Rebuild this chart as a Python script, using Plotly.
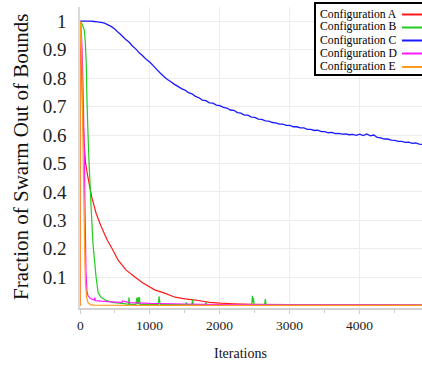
import plotly.graph_objects as go

# ---------------- data ----------------
series_names = ["Configuration A", "Configuration B", "Configuration C",
                "Configuration D", "Configuration E"]
series_colors = ["#ff1a1a", "#1fcc1f", "#1a1aff", "#ff1aff", "#ff9a1a"]

a_iter = [0, 1, 10, 25, 40, 60, 80, 100, 130, 170, 230, 300, 390, 460, 545, 660,
          790, 900, 1075, 1200, 1360, 1500, 1650, 1850, 2000, 2200, 2500, 3000,
          3500, 4000, 4890]
a_val = [0.0, 1.0, 0.93, 0.80, 0.68, 0.57, 0.50, 0.47, 0.43, 0.38, 0.325, 0.28,
         0.23, 0.20, 0.16, 0.125, 0.10, 0.08, 0.055, 0.045, 0.03, 0.024, 0.02,
         0.012, 0.009, 0.007, 0.005, 0.004, 0.003, 0.003, 0.002]

b_iter = [0, 30, 60, 75, 90, 100, 115, 130, 160, 185, 230, 260, 300, 360, 460,
          600, 695, 700, 710, 720, 800, 812, 820, 830, 840, 848, 860, 1120, 1130,
          1140, 1150, 1510, 1520, 1530, 1600, 1610, 1620, 1790, 1800, 1810, 2455,
          2465, 2472, 2480, 2490, 2640, 2650, 2660, 2720, 3000, 4000, 4890]
b_val = [1.0, 0.99, 0.97, 0.93, 0.85, 0.72, 0.60, 0.50, 0.34, 0.22, 0.10, 0.045,
         0.03, 0.02, 0.012, 0.008, 0.005, 0.03, 0.006, 0.005, 0.005, 0.028, 0.006,
         0.03, 0.005, 0.03, 0.005, 0.005, 0.033, 0.015, 0.004, 0.004, 0.012,
         0.004, 0.004, 0.022, 0.004, 0.004, 0.012, 0.004, 0.004, 0.035, 0.012,
         0.028, 0.004, 0.004, 0.023, 0.004, 0.004, 0.003, 0.003, 0.002]

c_iter = [0, 50, 100, 150, 200, 250, 300, 350, 400, 450, 500, 550, 600, 650, 700,
          750, 800, 850, 900, 950, 1000, 1050, 1100, 1150, 1200, 1250, 1300, 1350,
          1400, 1450, 1500, 1550, 1600, 1650, 1700, 1750, 1800, 1850, 1900, 1950,
          2000, 2050, 2100, 2150, 2200, 2250, 2300, 2350, 2400, 2450, 2500, 2550,
          2600, 2650, 2700, 2750, 2800, 2850, 2900, 2950, 3000, 3050, 3100, 3150,
          3200, 3250, 3300, 3350, 3400, 3450, 3500, 3550, 3600, 3650, 3700, 3750,
          3800, 3850, 3900, 3950, 4000, 4050, 4100, 4150, 4200, 4250, 4300, 4350,
          4400, 4450, 4500, 4550, 4600, 4650, 4700, 4750, 4800, 4850, 4890]
c_val = [1.0, 1.0, 1.0, 1.0, 0.999, 0.998, 0.996, 0.993, 0.987, 0.981, 0.972,
         0.960, 0.949, 0.937, 0.927, 0.913, 0.902, 0.888, 0.878, 0.865, 0.856,
         0.843, 0.830, 0.817, 0.806, 0.795, 0.787, 0.778, 0.771, 0.763, 0.758,
         0.749, 0.745, 0.736, 0.731, 0.723, 0.721, 0.713, 0.712, 0.705, 0.703,
         0.697, 0.695, 0.688, 0.687, 0.679, 0.677, 0.670, 0.670, 0.663, 0.662,
         0.656, 0.655, 0.650, 0.649, 0.644, 0.643, 0.638, 0.638, 0.634, 0.634,
         0.629, 0.629, 0.625, 0.625, 0.620, 0.620, 0.616, 0.617, 0.612, 0.612,
         0.608, 0.609, 0.605, 0.606, 0.603, 0.604, 0.601, 0.602, 0.599, 0.603,
         0.598, 0.604, 0.597, 0.600, 0.592, 0.590, 0.586, 0.586, 0.582, 0.581,
         0.578, 0.578, 0.574, 0.575, 0.571, 0.572, 0.568, 0.567]

d_iter = [0, 15, 30, 45, 60, 72, 86, 100, 115, 150, 200, 210, 220, 300, 500, 600,
          610, 700, 1000, 1500, 2000, 3000, 4000, 4890]
d_val = [1.0, 0.98, 0.90, 0.75, 0.55, 0.34, 0.12, 0.05, 0.035, 0.025, 0.02,
         0.028, 0.018, 0.016, 0.013, 0.012, 0.017, 0.011, 0.008, 0.006, 0.004,
         0.003, 0.003, 0.002]

e_iter = [0, 2, 10, 20, 30, 40, 50, 60, 70, 80, 95, 115, 150, 200, 1000, 4890]
e_val = [0.0, 1.0, 0.99, 0.93, 0.80, 0.62, 0.45, 0.30, 0.15, 0.07, 0.03, 0.01,
         0.004, 0.002, 0.0015, 0.001]

y_ticks = [0.1, 0.2, 0.3, 0.4, 0.5, 0.6, 0.7, 0.8, 0.9, 1.0]
y_tick_text = ["0.1", "0.2", "0.3", "0.4", "0.5", "0.6", "0.7", "0.8", "0.9", "1"]
x_ticks = [0, 1000, 2000, 3000, 4000]
x_tick_text = ["0", "1000", "2000", "3000", "4000"]

# ---------------- figure ----------------
W, H = 422, 367
L, R, T, B = 80, 0, 7, 59
PW, PH = W - L - R, H - T - B
SERIF = "Liberation Serif, Times New Roman, serif"


def px_x(px):
    return (px - L) / PW


def px_y(py):
    return (H - B - py) / PH


fig = go.Figure()
all_x = [a_iter, b_iter, c_iter, d_iter, e_iter]
all_y = [a_val, b_val, c_val, d_val, e_val]
widths = [1.2, 1.2, 1.3, 1.2, 1.2]
for name, col, xs, ys, w in zip(series_names, series_colors, all_x, all_y, widths):
    fig.add_trace(go.Scatter(x=xs, y=ys, mode="lines", name=name,
                             line=dict(color=col, width=w, simplify=False),
                             showlegend=False))

# custom legend: text on the left, line sample on the right
legend_rows = [14, 27, 40, 53, 66.5]
shapes = [dict(type="rect", xref="paper", yref="paper",
               x0=px_x(315), x1=px_x(430), y0=px_y(75), y1=px_y(3),
               line=dict(color="black", width=2), fillcolor="white", layer="above")]
annotations = []
for name, col, ry in zip(series_names, series_colors, legend_rows):
    annotations.append(dict(text=name, xref="paper", yref="paper",
                            x=px_x(318), y=px_y(ry), xanchor="left", yanchor="middle",
                            showarrow=False,
                            font=dict(family=SERIF, size=11.7, color="black")))
    shapes.append(dict(type="line", xref="paper", yref="paper",
                       x0=px_x(402), x1=px_x(424), y0=px_y(ry + 0.5), y1=px_y(ry + 0.5),
                       line=dict(color=col, width=2), layer="above"))

# x tick labels placed on the data scale (x) at a fixed distance below the axis
for tv, tt in zip(x_ticks, x_tick_text):
    annotations.append(dict(text=tt, xref="x", yref="paper", x=tv, y=px_y(325),
                            xanchor="center", yanchor="middle", showarrow=False,
                            font=dict(family=SERIF, size=13.5, color="#222")))

annotations.append(dict(text="Iterations", xref="paper", yref="paper",
                        x=px_x(240), y=px_y(353), xanchor="center", yanchor="middle",
                        showarrow=False, font=dict(family=SERIF, size=14, color="#111")))
annotations.append(dict(text="Fraction of Swarm Out of Bounds", xref="paper",
                        yref="paper", x=px_x(21), y=px_y(157), xanchor="center",
                        yanchor="middle", textangle=-90, showarrow=False,
                        font=dict(family=SERIF, size=21, color="#111")))

fig.update_layout(
    width=W, height=H,
    margin=dict(l=L, r=R, t=T, b=B, pad=0),
    paper_bgcolor="white", plot_bgcolor="white",
    showlegend=False,
    shapes=shapes, annotations=annotations,
    xaxis=dict(range=[0, 4890], tickvals=x_ticks, ticktext=x_tick_text,
               showticklabels=False,
               showgrid=True, gridcolor="#ececec", gridwidth=1,
               zeroline=False, showline=True, linecolor="#d2d2d2", linewidth=2,
               ticks="outside", ticklen=4, tickcolor="#cfcfcf", tickwidth=1,
               minor=dict(dtick=500, tick0=0, ticks="outside", ticklen=3,
                          tickcolor="#cfcfcf", showgrid=False)),
    yaxis=dict(range=[-0.008, 1.05], tickvals=y_ticks, ticktext=y_tick_text,
               showgrid=True, gridcolor="#ececec", gridwidth=1,
               zeroline=False, showline=True, linecolor="#dadada", linewidth=1.5,
               ticks="", tickfont=dict(family=SERIF, size=19, color="#222"),
               ticklabelstandoff=8),
)

fig.write_html("out.html")
